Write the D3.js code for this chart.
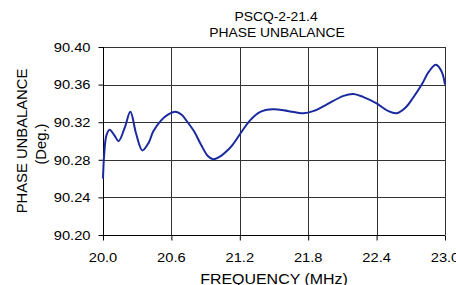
<!DOCTYPE html>
<html>
<head>
<meta charset="utf-8">
<script src="https://cdn.jsdelivr.net/npm/d3@7"></script>
<style>
    html, body { margin: 0; padding: 0; background: #fff; }
    svg { display: block; }
    text { font-family: Arial, "Liberation Sans", sans-serif; fill: #000; }
</style>
</head>
<body>
<div id="mainDiv"></div>
<script>
'use strict';

var chartTitle = ['PSCQ-2-21.4', 'PHASE UNBALANCE'];
var yTitle = ['PHASE UNBALANCE', '(Deg.)'];
var xTitle = 'FREQUENCY (MHz)';

var xTicks = [20.0, 20.6, 21.2, 21.8, 22.4, 23.0];
var yTicks = [90.20, 90.24, 90.28, 90.32, 90.36, 90.40];

var freq = [20.00, 20.01, 20.03, 20.058, 20.10, 20.137, 20.19, 20.24, 20.29, 20.345,
            20.40, 20.44, 20.51, 20.57, 20.634, 20.69, 20.73, 20.80, 20.86, 20.92,
            20.965, 21.02, 21.10, 21.14, 21.29, 21.38, 21.49, 21.62, 21.757, 21.85,
            21.95, 22.11, 22.196, 22.28, 22.40, 22.50, 22.576, 22.65, 22.72, 22.796,
            22.86, 22.92, 22.97, 23.00];
var phase = [90.260, 90.285, 90.306, 90.312, 90.306, 90.300, 90.314, 90.331, 90.308, 90.290,
             90.298, 90.310, 90.322, 90.328, 90.331, 90.328, 90.322, 90.310, 90.296, 90.284,
             90.2805, 90.283, 90.291, 90.2965, 90.322, 90.331, 90.3337, 90.332, 90.3295, 90.332,
             90.338, 90.348, 90.350, 90.347, 90.340, 90.332, 90.3295, 90.335, 90.346, 90.360,
             90.374, 90.381, 90.374, 90.360];

var myChart = {};

myChart.scaledText = function(node, x, y, str, size, sx, anchor)
{
    return node.append('text')
        .attr('transform', 'translate(' + x + ',' + y + ') scale(' + sx + ',1)')
        .attr('text-anchor', anchor)
        .style('font-size', size + 'px')
        .text(str);
}

myChart.run = function()
{
    var W = 456, H = 285;
    var left = 103, right = 445, top = 47, bottom = 235;

    var svg = d3.select('#mainDiv').append('svg')
        .attr('width', W)
        .attr('height', H);

    var x = d3.scaleLinear().domain([20.0, 23.0]).range([left, right]);
    var y = d3.scaleLinear().domain([90.20, 90.40]).range([bottom, top]);

    // grid
    svg.append('g').selectAll('line.v')
        .data(xTicks.slice(1))
        .enter().append('line')
        .attr('x1', function(d){ return Math.round(x(d)) + 0.5; })
        .attr('x2', function(d){ return Math.round(x(d)) + 0.5; })
        .attr('y1', top).attr('y2', bottom)
        .style('stroke', '#333').style('stroke-width', 1);

    svg.append('g').selectAll('line.h')
        .data(yTicks.slice(1))
        .enter().append('line')
        .attr('x1', left).attr('x2', right)
        .attr('y1', function(d){ return Math.round(y(d)) + 0.5; })
        .attr('y2', function(d){ return Math.round(y(d)) + 0.5; })
        .style('stroke', '#333').style('stroke-width', 1);

    // axes
    var xAxis = d3.axisBottom(x).tickValues(xTicks).tickSize(5).tickFormat('');
    var yAxis = d3.axisLeft(y).tickValues(yTicks).tickSize(5).tickFormat('');

    svg.append('g')
        .attr('transform', 'translate(0,' + (bottom + 0.5) + ')')
        .call(xAxis)
        .call(function(g){ g.select('.domain').attr('d', 'M' + left + ',0H' + right); })
        .selectAll('line, path').style('stroke', '#000');

    svg.append('g')
        .attr('transform', 'translate(' + (left + 0.5) + ',0)')
        .call(yAxis)
        .call(function(g){ g.select('.domain').attr('d', 'M0,' + top + 'V' + bottom); })
        .selectAll('line, path').style('stroke', '#000');

    // tick labels
    xTicks.forEach(function(t){
        myChart.scaledText(svg, x(t), 261.5, t.toFixed(1), 13, 1.13, 'middle');
    });
    yTicks.forEach(function(t){
        myChart.scaledText(svg, 90.5, y(t) + 4.7, t.toFixed(2), 13, 1.13, 'end');
    });

    // the curve
    var line = d3.line()
        .x(function(d){ return x(d[0]); })
        .y(function(d){ return y(d[1]); })
        .curve(d3.curveCatmullRom.alpha(0.5));

    svg.append('path')
        .datum(d3.zip(freq, phase))
        .attr('d', line)
        .style('fill', 'none')
        .style('stroke', '#1a2a9e')
        .style('stroke-width', 2);

    // titles
    myChart.scaledText(svg, 276, 21, chartTitle[0], 12.5, 1.11, 'middle');
    myChart.scaledText(svg, 277, 37.3, chartTitle[1], 12.5, 1.11, 'middle');
    myChart.scaledText(svg, 274, 283.8, xTitle, 14.5, 1.1, 'middle');

    svg.append('text')
        .attr('transform', 'translate(26.5,141) rotate(-90)')
        .attr('text-anchor', 'middle')
        .style('font-size', '14.8px')
        .text(yTitle[0]);
    svg.append('text')
        .attr('transform', 'translate(45.5,144) rotate(-90)')
        .attr('text-anchor', 'middle')
        .style('font-size', '14.8px')
        .text(yTitle[1]);
}

myChart.run();
</script>
</body>
</html>
